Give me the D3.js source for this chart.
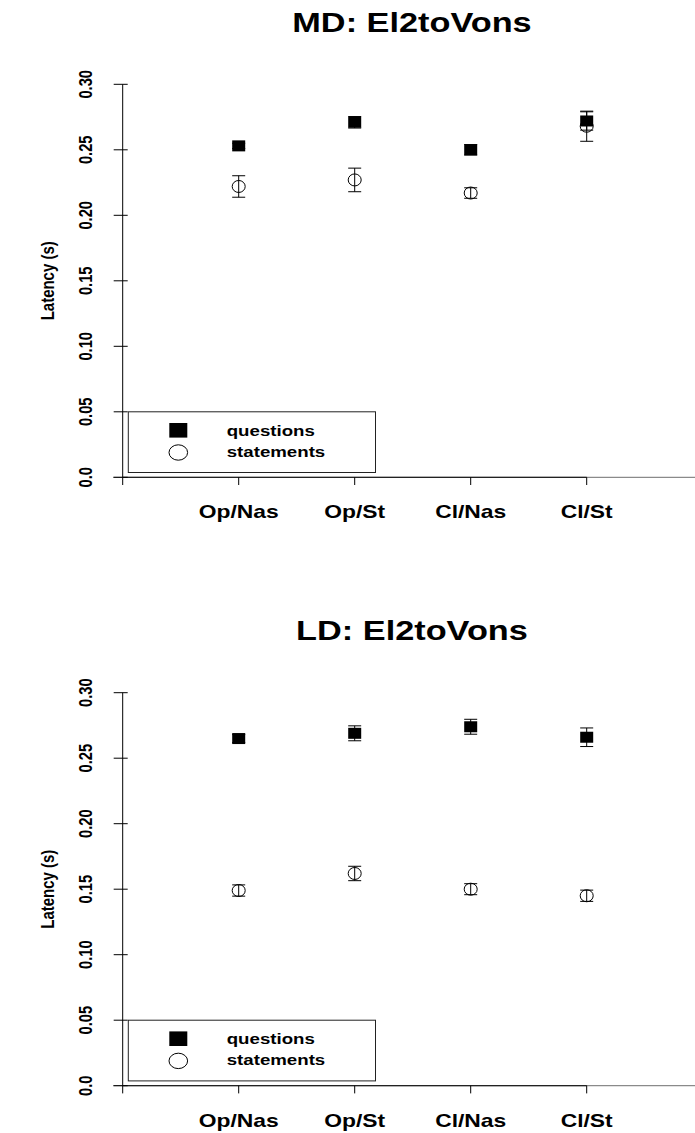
<!DOCTYPE html>
<html>
<head>
<meta charset="utf-8">
<script src="https://cdn.jsdelivr.net/npm/d3@7"></script>
<style>
  body { margin: 0; background: #fff; }
  text { font-family: "Liberation Sans", Arial, sans-serif; font-weight: bold; fill: #000; }
</style>
</head>
<body>
<div id="chart"></div>
<script>
// categories on the x axis
var categories = ["Op/Nas", "Op/St", "Cl/Nas", "Cl/St"];
var yTicks = [0, 0.05, 0.10, 0.15, 0.20, 0.25, 0.30];
var yTickLabels = ["0.0", "0.05", "0.10", "0.15", "0.20", "0.25", "0.30"];
var seriesNames = ["questions", "statements"];

// MD panel
var mdQuestions = [0.253, 0.271, 0.250, 0.272];
var mdQuestionsErr = [0.002, 0.0044, 0.004, 0.007];
var mdStatements = [0.222, 0.227, 0.217, 0.268];
var mdStatementsErr = [0.0082, 0.009, 0.004, 0.0115];

// LD panel
var ldQuestions = [0.265, 0.269, 0.274, 0.266];
var ldQuestionsErr = [0.003, 0.0057, 0.0057, 0.0071];
var ldStatements = [0.149, 0.162, 0.150, 0.145];
var ldStatementsErr = [0.0043, 0.0055, 0.0042, 0.0043];

var panels = [
  {title: "MD: El2toVons", q: mdQuestions, qe: mdQuestionsErr, s: mdStatements, se: mdStatementsErr},
  {title: "LD: El2toVons", q: ldQuestions, qe: ldQuestionsErr, s: ldStatements, se: ldStatementsErr}
];

var W = 695, H = 1133;
var stretch = 1.27;   // the original picture is stretched sideways
var panelShift = 608.4;

var svg = d3.select("#chart").append("svg")
  .attr("width", W).attr("height", H);

// x: category index 0..4 (0 is where the y axis sits)
var x = d3.scaleLinear().domain([0, 4]).range([122.7, 586.7]);

function hText(g, str, px, py, size, anchor) {
  return g.append("text")
    .attr("transform", "translate(" + px + "," + py + ") scale(" + stretch + ",1)")
    .attr("text-anchor", anchor || "middle")
    .style("font-size", size + "px")
    .text(str);
}
function vText(g, str, px, py, size) {
  return g.append("text")
    .attr("transform", "translate(" + px + "," + py + ") rotate(-90) scale(1," + stretch + ")")
    .attr("text-anchor", "middle")
    .attr("dy", "0.36em")
    .style("font-size", size + "px")
    .text(str);
}

panels.forEach(function(p, pi) {
  var off = pi * panelShift;
  var y = d3.scaleLinear().domain([0, 0.3]).range([477.3 + off, 84.3 + off]);
  var g = svg.append("g");

  // title
  hText(g, p.title, 412, 31.7 + off, 27);

  // grey zero line across the plot
  g.append("line")
    .attr("x1", 113).attr("x2", W)
    .attr("y1", y(0)).attr("y2", y(0))
    .attr("stroke", "#8a8a8a").attr("stroke-width", 1.2);

  // x axis
  g.append("line")
    .attr("x1", x(0)).attr("x2", x(4))
    .attr("y1", y(0)).attr("y2", y(0))
    .attr("stroke", "#222").attr("stroke-width", 1.2);
  g.selectAll(".xt").data(d3.range(0, 5)).enter().append("line")
    .attr("x1", function(d) { return x(d); }).attr("x2", function(d) { return x(d); })
    .attr("y1", y(0)).attr("y2", y(0) + 7.7)
    .attr("stroke", "#000").attr("stroke-width", 1);
  categories.forEach(function(c, i) {
    hText(g, c, x(i + 1), 518.3 + off, 18);
  });

  // y axis
  g.append("line")
    .attr("x1", x(0)).attr("x2", x(0))
    .attr("y1", y(0)).attr("y2", y(0.3))
    .attr("stroke", "#000").attr("stroke-width", 1);
  g.selectAll(".yt").data(yTicks).enter().append("line")
    .attr("x1", x(0) - 9).attr("x2", x(0) + 5)
    .attr("y1", function(d) { return y(d); }).attr("y2", function(d) { return y(d); })
    .attr("stroke", "#000").attr("stroke-width", 1);
  yTicks.forEach(function(t, i) {
    vText(g, yTickLabels[i], 85, y(t), 14.7);
  });
  vText(g, "Latency (s)", 47, (y(0) + y(0.3)) / 2, 15);

  // legend box
  g.append("rect")
    .attr("x", 128.3).attr("y", y(0.05))
    .attr("width", 247.2).attr("height", 472.5 + off - y(0.05))
    .attr("fill", "none").attr("stroke", "#222").attr("stroke-width", 1);
  g.append("rect")
    .attr("x", 178.3 - 9).attr("y", 430.3 + off - 7.3)
    .attr("width", 18).attr("height", 14.6).attr("fill", "#000");
  g.append("ellipse")
    .attr("cx", 178.3).attr("cy", 452.5 + off)
    .attr("rx", 9.3).attr("ry", 7.7)
    .attr("fill", "none").attr("stroke", "#000").attr("stroke-width", 1);
  hText(g, seriesNames[0], 226.7, 436 + off, 14.7, "start");
  hText(g, seriesNames[1], 226.7, 456.5 + off, 14.7, "start");

  // error bars
  function errBars(vals, errs, cls) {
    var eb = g.selectAll("." + cls).data(vals).enter().append("g").attr("class", cls);
    eb.append("line")
      .attr("x1", function(d, i) { return x(i + 1); }).attr("x2", function(d, i) { return x(i + 1); })
      .attr("y1", function(d, i) { return y(d - errs[i]); })
      .attr("y2", function(d, i) { return y(d + errs[i]); })
      .attr("stroke", "#000").attr("stroke-width", 1);
    [-1, 1].forEach(function(sgn) {
      eb.append("line")
        .attr("x1", function(d, i) { return x(i + 1) - 6.5; })
        .attr("x2", function(d, i) { return x(i + 1) + 6.5; })
        .attr("y1", function(d, i) { return y(d + sgn * errs[i]); })
        .attr("y2", function(d, i) { return y(d + sgn * errs[i]); })
        .attr("stroke", "#000").attr("stroke-width", 1);
    });
  }
  errBars(p.q, p.qe, "eq");
  errBars(p.s, p.se, "es");

  // questions: filled squares
  g.selectAll(".sq").data(p.q).enter().append("rect")
    .attr("x", function(d, i) { return x(i + 1) - 6.5; })
    .attr("y", function(d) { return y(d) - 5.5; })
    .attr("width", 13).attr("height", 11)
    .attr("fill", "#000");

  // statements: open circles
  g.selectAll(".ci").data(p.s).enter().append("ellipse")
    .attr("cx", function(d, i) { return x(i + 1); })
    .attr("cy", function(d) { return y(d); })
    .attr("rx", 6.5).attr("ry", 6)
    .attr("fill", "none").attr("stroke", "#000").attr("stroke-width", 1);
});
</script>
</body>
</html>
